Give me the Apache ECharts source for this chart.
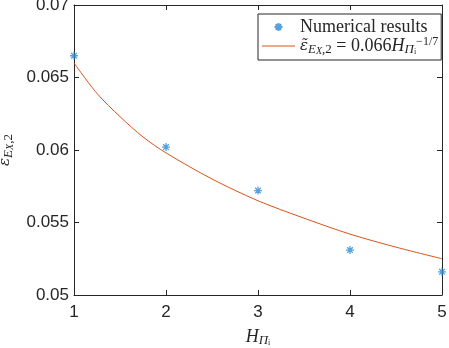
<!DOCTYPE html>
<html>
<head>
<meta charset="utf-8">
<script src="https://cdn.jsdelivr.net/npm/echarts@6/dist/echarts.min.js"></script>
<style>
  html, body { margin: 0; padding: 0; background: #fff; }
  #chart { width: 449px; height: 348px; }
</style>
</head>
<body>
<div id="chart"></div>
<script>
// values
const hValues = [1, 2, 3, 4, 5];
const numericalResults = [0.0665, 0.0602, 0.0572, 0.0531, 0.0516];
// fitted curve, read at several points along it
const fitH = [1, 1.25, 1.5, 1.75, 2, 2.5, 3, 3.5, 4, 4.5, 5];
const fitValues = [0.0660, 0.0639, 0.0623, 0.0609, 0.0598, 0.0580, 0.0565, 0.0553, 0.0542, 0.0533, 0.0525];
const yTicks = [0.05, 0.055, 0.06, 0.065, 0.07];

const axisCol = '#262626';
const blue = '#2a8ad4';
const orange = '#d95319';
const star = 'path://M5 0L5 10M0 5L10 5M1.5 1.5L8.5 8.5M8.5 1.5L1.5 8.5';
const lineIcon = 'path://M0 0L40 0L40 1.2L0 1.2Z';

const serif = 'Liberation Serif';
const LH = 20;
const mathRich = {
  eps: { fontFamily: 'DejaVu Serif', fontStyle: 'italic', fontSize: 15, color: axisCol, lineHeight: LH, verticalAlign: 'middle' },
  it: { fontFamily: serif, fontStyle: 'italic', fontSize: 18, color: axisCol, lineHeight: LH, verticalAlign: 'middle' },
  rm: { fontFamily: serif, fontSize: 18, color: axisCol, lineHeight: LH, verticalAlign: 'middle' },
  sub: { fontFamily: serif, fontStyle: 'italic', fontSize: 13, color: axisCol, lineHeight: LH, verticalAlign: 'bottom' },
  subsub: { fontFamily: serif, fontStyle: 'italic', fontSize: 10, color: axisCol, lineHeight: LH, verticalAlign: 'bottom' },
  subrm: { fontFamily: serif, fontSize: 13, color: axisCol, lineHeight: LH, verticalAlign: 'bottom' },
  subsubrm: { fontFamily: serif, fontSize: 8, color: axisCol, lineHeight: LH, verticalAlign: 'bottom' },
  sup: { fontFamily: serif, fontSize: 12, color: axisCol, lineHeight: LH, verticalAlign: 'top' },
  txt: { fontFamily: serif, fontSize: 18, color: axisCol, lineHeight: LH }
};

let myChart = echarts.init(document.getElementById('chart'), null, { renderer: 'canvas' });

function axisBase() {
  return {
    axisLine: { show: true, onZero: false, lineStyle: { color: axisCol, width: 1 } },
    axisTick: { show: true, inside: true, length: 5, lineStyle: { color: axisCol } },
    splitLine: { show: false }
  };
}

let option = {
  animation: false,
  backgroundColor: '#fff',
  grid: { left: 74, right: 7, top: 5, bottom: 53, containLabel: false, outerBoundsMode: 'none' },
  legend: {
    orient: 'vertical',
    left: 258,
    top: 14,
    padding: [4, 3, 4, 4],
    itemGap: 0,
    itemWidth: 33,
    itemHeight: 8,
    backgroundColor: '#fff',
    borderColor: axisCol,
    borderWidth: 1,
    borderRadius: 0,
    data: [
      { name: 'Numerical results', icon: star },
      { name: 'fit', icon: lineIcon }
    ],
    formatter: function (name) {
      if (name === 'fit') {
        return '{eps|ε̃}{sub|E}{subsub|X}{subrm|,2}{rm| = 0.066}{it|H}{sub|Π}{subsubrm|i}{sup|−1/7}';
      }
      return '{txt|Numerical results}';
    },
    textStyle: { rich: mathRich }
  },
  xAxis: [
    Object.assign(axisBase(), {
      type: 'value', min: 1, max: 5, interval: 1, position: 'bottom',
      axisLabel: { color: axisCol, fontFamily: 'Liberation Sans', fontSize: 17, margin: 9 },
      name: '{it|H}{sub|Π}{subsubrm|i}',
      nameLocation: 'middle',
      nameGap: 32,
      nameTextStyle: { rich: mathRich }
    }),
    Object.assign(axisBase(), {
      type: 'value', min: 1, max: 5, interval: 1, position: 'top',
      axisLabel: { show: false }
    })
  ],
  yAxis: [
    Object.assign(axisBase(), {
      type: 'value', min: yTicks[0], max: yTicks[yTicks.length - 1], interval: 0.005, position: 'left',
      axisLabel: { color: axisCol, fontFamily: 'Liberation Sans', fontSize: 17, margin: 5 },
      name: '{eps|ε̃}{sub|E}{subsub|X}{subrm|,2}',
      nameLocation: 'middle',
      nameGap: 58,
      nameRotate: 90,
      nameTextStyle: { rich: mathRich }
    }),
    Object.assign(axisBase(), {
      type: 'value', min: yTicks[0], max: yTicks[yTicks.length - 1], interval: 0.005, position: 'right',
      axisLabel: { show: false }
    })
  ],
  series: [
    {
      name: 'fit',
      type: 'line',
      smooth: 0.3,
      showSymbol: false,
      symbol: 'none',
      data: fitH.map((h, i) => [h, fitValues[i]]),
      lineStyle: { color: orange, width: 1 },
      itemStyle: { color: orange },
      z: 2
    },
    {
      name: 'Numerical results',
      type: 'scatter',
      symbol: star,
      symbolSize: 8,
      clip: false,
      data: hValues.map((h, i) => [h, numericalResults[i]]),
      itemStyle: { color: 'rgba(0,0,0,0)', borderColor: blue, borderWidth: 1.3 },
      z: 3
    }
  ]
};
myChart.setOption(option);
</script>
</body>
</html>
